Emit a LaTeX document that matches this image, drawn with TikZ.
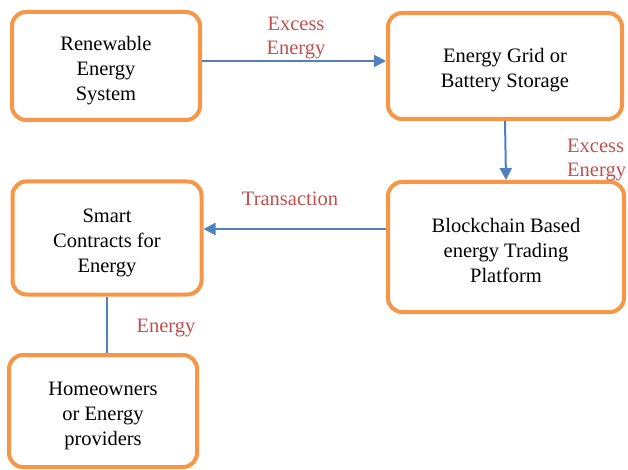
\documentclass[tikz,border=0pt]{standalone}
\usepackage{fontspec}
\setmainfont{Liberation Serif}
\usetikzlibrary{arrows.meta}
\definecolor{boxorange}{HTML}{F79646}
\definecolor{arrowblue}{HTML}{4F81BD}
\definecolor{labelred}{HTML}{C0504D}
\begin{document}
\begin{tikzpicture}[x=1pt,y=-1pt,
  box/.style={draw=boxorange, line width=4pt, rounded corners=14pt, fill=white, inner sep=0pt},
  boxtext/.style={align=center, inner sep=0pt, font=\fontsize{20.5}{25}\selectfont},
  flow/.style={draw=arrowblue, line width=2pt, -{Triangle[length=12pt,width=12pt]}},
  plain/.style={draw=arrowblue, line width=2pt},
  lbl/.style={text=labelred, font=\fontsize{20.5}{24}\selectfont, inner sep=0pt}]
\useasboundingbox (0,0) rectangle (628,470);
\fill[white] (0,0) rectangle (628,470);
\node[box, minimum width=188pt, minimum height=108pt] (b1) at (106,66) {};
\node[box, minimum width=234pt, minimum height=106pt] (b2) at (505,66) {};
\node[box, minimum width=236pt, minimum height=130pt] (b3) at (506,247) {};
\node[box, minimum width=189pt, minimum height=113pt] (b4) at (107,238) {};
\node[box, minimum width=188pt, minimum height=112pt] (b5) at (103,411) {};
\node[boxtext] (t1) at ([yshift=-5pt]b1.center) {Renewable\\Energy\\System};
\node[boxtext] (t2) at ([yshift=-4pt]b2.center) {Energy Grid or\\Battery Storage};
\node[boxtext] (t3) at ([yshift=-3pt]b3.center) {Blockchain Based\\energy Trading\\Platform};
\node[boxtext] (t4) at ([yshift=-5pt]b4.center) {Smart\\Contracts for\\Energy};
\node[boxtext] (t5) at ([yshift=-5pt]b5.center) {Homeowners\\or Energy\\providers};
\draw[flow] ([yshift=5pt]b1.east) -- ([yshift=5pt]b2.west);
\draw[flow] (b2.south) -- (b3.south |- b3.north);
\draw[flow] ([yshift=18pt]b3.west) -- ([yshift=9pt]b4.east);
\draw[plain] (b4.south) -- (b4.south |- b5.north);
\node[lbl, align=center] (l1) at (296,38) {Excess\\Energy};
\node[lbl, align=left, anchor=west] (l2) at (567,160) {Excess\\Energy};
\node[lbl] (l3) at (290,199) {Transaction};
\node[lbl] (l4) at (166,328) {Energy};
\end{tikzpicture}
\end{document}
